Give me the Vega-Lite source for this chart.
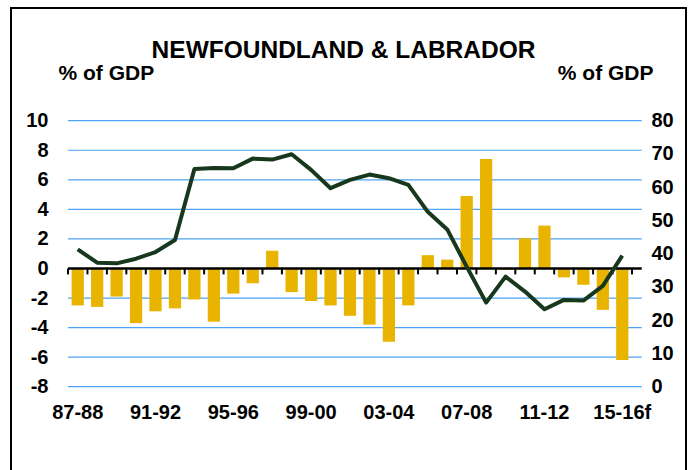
{
  "$schema": "https://vega.github.io/schema/vega-lite/v6.json",
  "autosize": "none",
  "width": 675,
  "height": 463,
  "padding": {"left": 11, "top": 8, "right": 4, "bottom": 0},
  "background": "white",
  "title": {
    "text": "NEWFOUNDLAND & LABRADOR",
    "font": "Liberation Sans",
    "fontSize": 24.5,
    "fontWeight": "bold",
    "color": "black",
    "anchor": "middle",
    "baseline": "alphabetic",
    "offset": -74,
    "dx": -5
  },
  "config": {
    "view": {"stroke": "black", "strokeWidth": 2},
    "axis": {
      "labelFont": "Liberation Sans",
      "labelFontSize": 20,
      "labelFontWeight": "bold",
      "labelColor": "black",
      "titleFont": "Liberation Sans",
      "titleFontSize": 21,
      "titleFontWeight": "bold",
      "titleColor": "black"
    }
  },
  "datasets": {
    "main": [
      {"year": "87-88", "bal": -2.5, "debt": 41.3},
      {"year": "88-89", "bal": -2.6, "debt": 37.3},
      {"year": "89-90", "bal": -1.9, "debt": 37.1},
      {"year": "90-91", "bal": -3.7, "debt": 38.5},
      {"year": "91-92", "bal": -2.9, "debt": 40.5},
      {"year": "92-93", "bal": -2.7, "debt": 44.1},
      {"year": "93-94", "bal": -2.1, "debt": 65.5},
      {"year": "94-95", "bal": -3.6, "debt": 65.8},
      {"year": "95-96", "bal": -1.7, "debt": 65.7},
      {"year": "96-97", "bal": -1.0, "debt": 68.6},
      {"year": "97-98", "bal": 1.2, "debt": 68.3},
      {"year": "98-99", "bal": -1.6, "debt": 69.9},
      {"year": "99-00", "bal": -2.2, "debt": 65.2},
      {"year": "00-01", "bal": -2.5, "debt": 59.7},
      {"year": "01-02", "bal": -3.2, "debt": 62.2},
      {"year": "02-03", "bal": -3.8, "debt": 63.8},
      {"year": "03-04", "bal": -4.95, "debt": 62.7},
      {"year": "04-05", "bal": -2.5, "debt": 60.7},
      {"year": "05-06", "bal": 0.9, "debt": 52.6},
      {"year": "06-07", "bal": 0.6, "debt": 47.3},
      {"year": "07-08", "bal": 4.9, "debt": 36.1},
      {"year": "08-09", "bal": 7.4, "debt": 25.3},
      {"year": "09-10", "bal": -0.1, "debt": 33.1},
      {"year": "10-11", "bal": 2.05, "debt": 28.6},
      {"year": "11-12", "bal": 2.9, "debt": 23.3},
      {"year": "12-13", "bal": -0.6, "debt": 26.1},
      {"year": "13-14", "bal": -1.1, "debt": 25.9},
      {"year": "14-15", "bal": -2.8, "debt": 30.3},
      {"year": "15-16f", "bal": -6.2, "debt": 39.4}
    ],
    "grid": [
      {"v": -8, "from": "87-88", "to": "end"},
      {"v": -6, "from": "87-88", "to": "end"},
      {"v": -4, "from": "87-88", "to": "end"},
      {"v": -2, "from": "87-88", "to": "end"},
      {"v": 2, "from": "87-88", "to": "end"},
      {"v": 4, "from": "87-88", "to": "end"},
      {"v": 6, "from": "87-88", "to": "end"},
      {"v": 8, "from": "87-88", "to": "end"},
      {"v": 10, "from": "87-88", "to": "end"}
    ]
  },
  "layer": [
    {
      "layer": [
        {
          "data": {"name": "grid"},
          "mark": {"type": "rule", "color": "#4da3f5", "strokeWidth": 1.2},
          "encoding": {
            "x": {"field": "from", "type": "ordinal", "bandPosition": 0, "sort": null, "scale": {"type": "band"}},
            "x2": {"field": "to"},
            "y": {"field": "v", "type": "quantitative", "scale": {"domain": [-13.704, 17.626], "nice": false, "zero": false}}
          }
        },
        {
          "data": {"name": "main"},
          "mark": {"type": "bar", "color": "#E8B400", "width": {"band": 0.63}},
          "encoding": {
            "x": {
              "field": "year", "type": "ordinal", "sort": null,
              "scale": {
                "type": "band",
                "domain": ["pre2", "pre1", "87-88", "88-89", "89-90", "90-91", "91-92", "92-93", "93-94", "94-95", "95-96", "96-97", "97-98", "98-99", "99-00", "00-01", "01-02", "02-03", "03-04", "04-05", "05-06", "06-07", "07-08", "08-09", "09-10", "10-11", "11-12", "12-13", "13-14", "14-15", "15-16f", "end", "post2"],
                "paddingInner": 0, "paddingOuter": 0.854, "align": 0.545
              },
              "axis": {
                "title": null,
                "values": ["87-88", "91-92", "95-96", "99-00", "03-04", "07-08", "11-12", "15-16f"],
                "domain": false, "ticks": false, "grid": false, "bandPosition": 0.5,
                "labelAngle": 0, "labelAlign": "center", "labelPadding": 0, "labelBaseline": "alphabetic",
                "offset": -52.7
              }
            },
            "y": {
              "field": "bal", "type": "quantitative",
              "scale": {"domain": [-13.704, 17.626], "nice": false, "zero": false},
              "axis": {
                "values": [-8, -6, -4, -2, 0, 2, 4, 6, 8, 10],
                "labelExpr": "'' + datum.value",
                "domain": false, "ticks": false, "grid": false,
                "labelPadding": 0, "offset": -37,
                "title": "% of GDP", "titleAngle": 0, "titleAlign": "left", "titleBaseline": "alphabetic",
                "titleX": 10, "titleY": 71
              }
            }
          }
        },
        {
          "data": {"name": "grid"},
          "transform": [{"filter": "datum.v == 10"}],
          "mark": {"type": "rule", "color": "black", "strokeWidth": 2.5},
          "encoding": {
            "x": {"field": "from", "type": "ordinal", "bandPosition": 0, "sort": null, "scale": {"type": "band"}},
            "x2": {"field": "to"},
            "y": {"datum": 0, "type": "quantitative"}
          }
        },
        {
          "data": {"name": "main"},
          "mark": {"type": "rule", "color": "black", "strokeWidth": 2},
          "encoding": {
            "x": {"field": "year", "type": "ordinal", "bandPosition": 0, "sort": null, "scale": {"type": "band"}},
            "y": {"datum": 0, "type": "quantitative"},
            "y2": {"datum": -0.4}
          }
        },
        {
          "data": {"name": "grid"},
          "transform": [{"filter": "datum.v == 10"}],
          "mark": {"type": "rule", "color": "black", "strokeWidth": 2},
          "encoding": {
            "x": {"field": "to", "type": "ordinal", "bandPosition": 0, "sort": null, "scale": {"type": "band"}},
            "y": {"datum": 0, "type": "quantitative"},
            "y2": {"datum": -0.4}
          }
        }
      ]
    },
    {
      "data": {"name": "main"},
      "mark": {"type": "line", "color": "#17381c", "strokeWidth": 4, "strokeJoin": "round"},
      "encoding": {
        "x": {"field": "year", "type": "ordinal", "sort": null, "scale": {"type": "band"}},
        "y": {
          "field": "debt", "type": "quantitative",
          "scale": {"domain": [-25.353, 113.895], "nice": false, "zero": false},
          "axis": {
            "orient": "right",
            "values": [0, 10, 20, 30, 40, 50, 60, 70, 80],
            "domain": false, "ticks": false, "grid": false,
            "labelPadding": 0, "offset": -35,
            "title": "% of GDP", "titleAngle": 0, "titleAlign": "right", "titleBaseline": "alphabetic",
            "titleX": 2, "titleY": 71
          }
        }
      }
    }
  ],
  "resolve": {"scale": {"y": "independent"}}
}
